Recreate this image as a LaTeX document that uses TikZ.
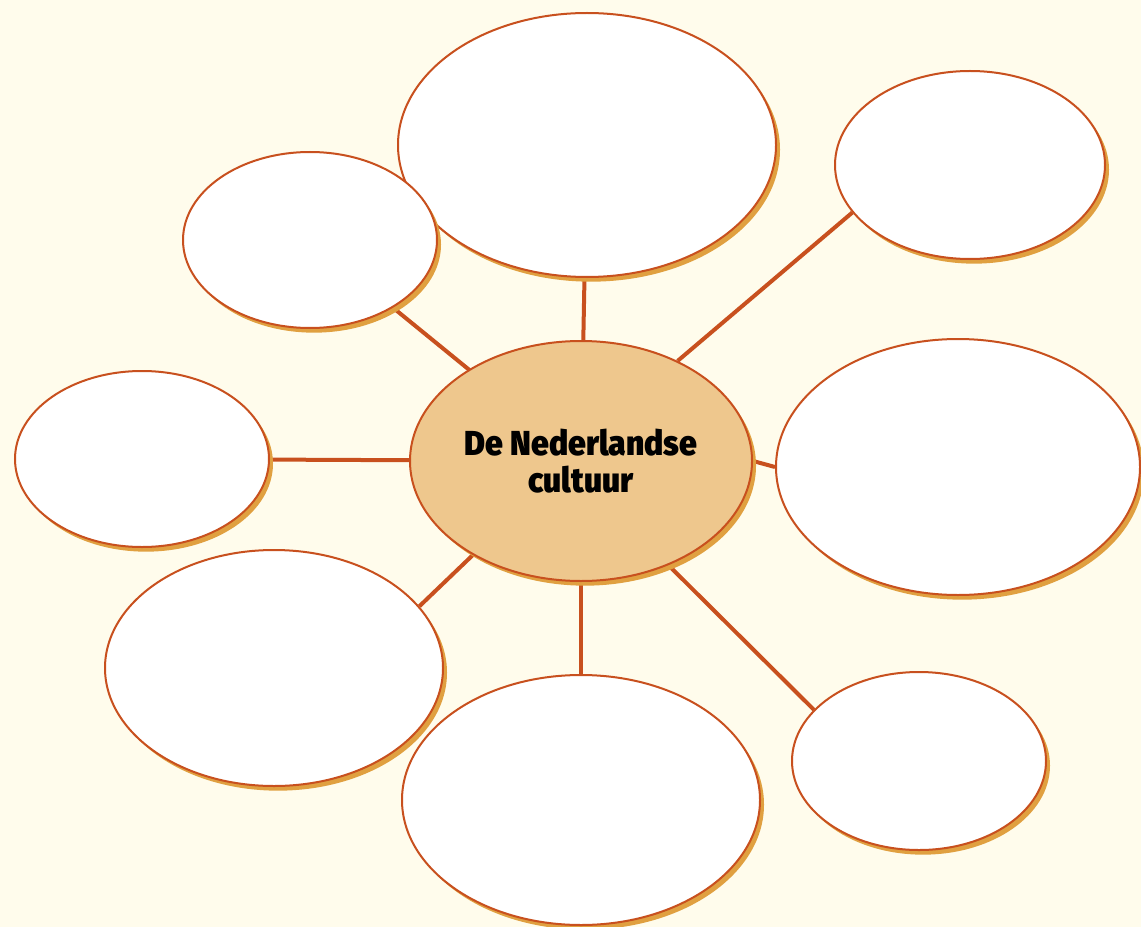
\documentclass[tikz,border=0pt]{standalone}
\usepackage{fontspec}
\newfontfamily\titlefont{Fira Sans}[UprightFont=* Black, BoldFont=* Black]
\usetikzlibrary{shapes.geometric,shadows}
\pgfdeclarelayer{back}
\pgfdeclarelayer{links}
\pgfsetlayers{back,links,main}
\definecolor{bgc}{HTML}{FFFCEC}
\definecolor{edge}{HTML}{C8501E}
\definecolor{shad}{HTML}{E0A040}
\definecolor{core}{HTML}{EEC78D}
\tikzset{
  bubble/.style={ellipse, draw=edge, line width=1.5pt, fill=white, inner sep=0pt,
    general shadow={shadow xshift=3pt, shadow yshift=-3.5pt, fill=shad, draw=none}},
  link/.style={draw=edge, line width=3pt},
}
\newcommand{\narrowline}[1]{\scalebox{0.92}[1]{#1}}
\begin{document}
\begin{tikzpicture}[x=0.75pt,y=-0.75pt]
\begin{pgfonlayer}{back}
\fill[bgc] (0,0) rectangle (1141,927);
\end{pgfonlayer}
\useasboundingbox (0,0) rectangle (1141,927);
\node[bubble, fill=core, minimum width=256.5pt, minimum height=180pt, align=center,
  font=\titlefont\fontsize{26}{27.75}\selectfont] (c) at (581,461)
  {\narrowline{De Nederlandse}\\\narrowline{cultuur}};
\node[bubble, minimum width=283.5pt, minimum height=198pt] (t) at (587,145) {};
\node[bubble, minimum width=190.5pt, minimum height=132pt] (tl) at (310,240) {};
\node[bubble, minimum width=202.5pt, minimum height=141pt] (tr) at (970,165) {};
\node[bubble, minimum width=190.5pt, minimum height=132pt] (l) at (142,459) {};
\node[bubble, minimum width=273pt, minimum height=192pt] (r) at (958,467) {};
\node[bubble, minimum width=253.5pt, minimum height=177pt] (bl) at (274,668) {};
\node[bubble, minimum width=268.5pt, minimum height=187.5pt] (b) at (581,800) {};
\node[bubble, minimum width=190.5pt, minimum height=133.5pt] (br) at (919,761) {};
\begin{pgfonlayer}{links}
\draw[link] (c.center) -- (t.center);
\draw[link] (c.center) -- (tl.center);
\draw[link] (c.46) -- (tr.202);
\draw[link] (c.center) -- (l.center);
\draw[link] (c.east) -- (r.west);
\draw[link] (c.221) -- (bl.23);
\draw[link] (c.center) -- (b.center);
\draw[link] (c.-50) -- (br.154);
\end{pgfonlayer}
\end{tikzpicture}
\end{document}
